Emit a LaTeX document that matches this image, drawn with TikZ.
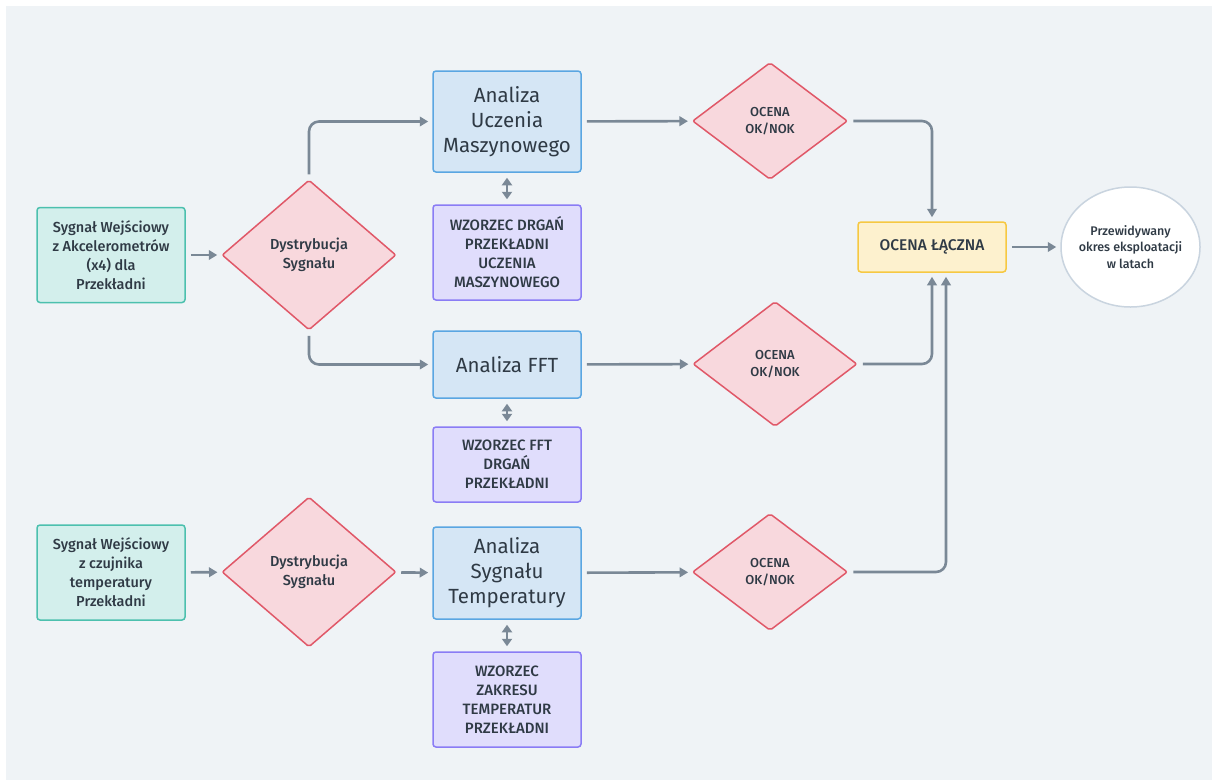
\documentclass[tikz,border=0pt]{standalone}
\usepackage{fontspec}
\setmainfont{Fira Sans}[UprightFont={* Medium}]
\newfontfamily\regularfont{Fira Sans}
\usetikzlibrary{shapes.geometric,arrows.meta}
\definecolor{bg}{HTML}{EFF3F6}
\definecolor{ink}{HTML}{2F3A45}
\definecolor{wire}{HTML}{7A8896}
\definecolor{tealfill}{HTML}{D3EFEC}
\definecolor{tealline}{HTML}{4CC0AE}
\definecolor{redfill}{HTML}{F8D8DD}
\definecolor{redline}{HTML}{E05868}
\definecolor{bluefill}{HTML}{D5E6F5}
\definecolor{blueline}{HTML}{5AA6E2}
\definecolor{violetfill}{HTML}{E0DDFC}
\definecolor{violetline}{HTML}{8A7CF5}
\definecolor{yellowfill}{HTML}{FDF1CE}
\definecolor{yellowline}{HTML}{F6C842}
\definecolor{circleline}{HTML}{C9D4DF}
\tikzset{
  base/.style={draw, line width=1.5pt, text=ink, align=center, inner sep=2pt},
  inbox/.style={base, rectangle, rounded corners=3pt, fill=tealfill, draw=tealline,
    minimum width=148pt, minimum height=95pt, font=\fontsize{14.5}{19}\selectfont},
  split/.style={base, diamond, rounded corners=2pt, fill=redfill, draw=redline,
    minimum width=174pt, minimum height=150pt, inner sep=0pt, font=\fontsize{14.5}{19}\selectfont},
  judge/.style={base, diamond, rounded corners=2pt, fill=redfill, draw=redline,
    inner sep=0pt, font=\fontsize{13}{17}\selectfont},
  analysis/.style={base, rectangle, rounded corners=3pt, fill=bluefill, draw=blueline,
    minimum width=148pt, font=\regularfont\fontsize{20.5}{25}\selectfont},
  pattern/.style={base, rectangle, rounded corners=3pt, fill=violetfill, draw=violetline,
    minimum width=148pt, font=\fontsize{15}{19}\selectfont},
  total/.style={base, rectangle, rounded corners=3pt, fill=yellowfill, draw=yellowline,
    minimum width=148pt, minimum height=50pt, font=\fontsize{15.5}{19}\selectfont},
  result/.style={base, ellipse, fill=white, draw=circleline, minimum width=139pt,
    minimum height=120pt, inner xsep=-8pt, inner ysep=0pt, font=\fontsize{12.5}{16.5}\selectfont},
  arr/.style={draw=wire, line width=2.6pt, rounded corners=10pt,
    -{Triangle[length=8.5pt,width=9.5pt]}, shorten >=4pt, shorten <=5pt},
  biarr/.style={draw=wire, line width=2.8pt,
    {Triangle[length=7.5pt,width=10pt]}-{Triangle[length=7.5pt,width=10pt]}, shorten >=5pt, shorten <=5pt},
}
\begin{document}
\begin{tikzpicture}[x=1pt,y=-1pt]
  % canvas
  \fill[white] (0,0) rectangle (1212,780);
  \fill[bg] (6,6) rectangle (1212,780);
  \useasboundingbox (0,0) rectangle (1212,780);

  % vibration branch
  \node[inbox] (in1) at (111,255) {Sygnał Wejściowy\\z Akcelerometrów\\(x4) dla\\Przekładni};
  \node[split] (d1) at (309,255) {Dystrybucja\\Sygnału};
  \node[analysis, minimum height=101pt] (a1) at (507,121.5) {Analiza\\Uczenia\\Maszynowego};
  \node[pattern, minimum height=95pt] (p1) at (507,252.5) {WZORZEC DRGAŃ\\PRZEKŁADNI\\UCZENIA\\MASZYNOWEGO};
  \node[judge, minimum width=155pt, minimum height=117pt] (o1) at (770,121) {OCENA\\OK/NOK};

  \node[analysis, minimum height=67pt] (a2) at (507,364.5) {Analiza FFT};
  \node[pattern, minimum height=75pt] (p2) at (507,464.5) {WZORZEC FFT\\DRGAŃ\\PRZEKŁADNI};
  \node[judge, minimum width=164pt, minimum height=125pt] (o2) at (775,364) {OCENA\\OK/NOK};

  % temperature branch
  \node[inbox] (in2) at (111,572.5) {Sygnał Wejściowy\\z czujnika\\temperatury\\Przekładni};
  \node[split] (d2) at (309,572) {Dystrybucja\\Sygnału};
  \node[analysis, minimum height=92pt] (a3) at (507,573) {Analiza\\Sygnału\\Temperatury};
  \node[pattern, minimum height=95pt] (p3) at (507,699.5) {WZORZEC\\ZAKRESU\\TEMPERATUR\\PRZEKŁADNI};
  \node[judge, minimum width=155pt, minimum height=117pt] (o3) at (770,572) {OCENA\\OK/NOK};

  % combined assessment
  \node[total] (tot) at (932,247) {OCENA ŁĄCZNA};
  \node[result] (res) at (1130.5,247) {Przewidywany\\okres eksploatacji\\w latach};

  % connectors
  \draw[arr] (in1) -- (d1);
  \draw[arr] (d1.north) |- (a1.west);
  \draw[arr] (d1.south) |- (a2.west);
  \draw[biarr] (a1) -- (p1);
  \draw[biarr] (a2) -- (p2);
  \draw[arr] (a1) -- (o1);
  \draw[arr] (a2) -- (o2);

  \draw[arr] (in2) -- (d2);
  \draw[arr] (d2) -- (a3);
  \draw[biarr] (a3) -- (p3);
  \draw[arr] (a3) -- (o3);

  \draw[arr] (o1.east) -| (tot.north);
  \draw[arr] (o2.east) -| (tot.south);
  \draw[arr] (o3.east) -| ([xshift=14pt]tot.south);
  \draw[arr] (tot) -- (res);
\end{tikzpicture}
\end{document}
